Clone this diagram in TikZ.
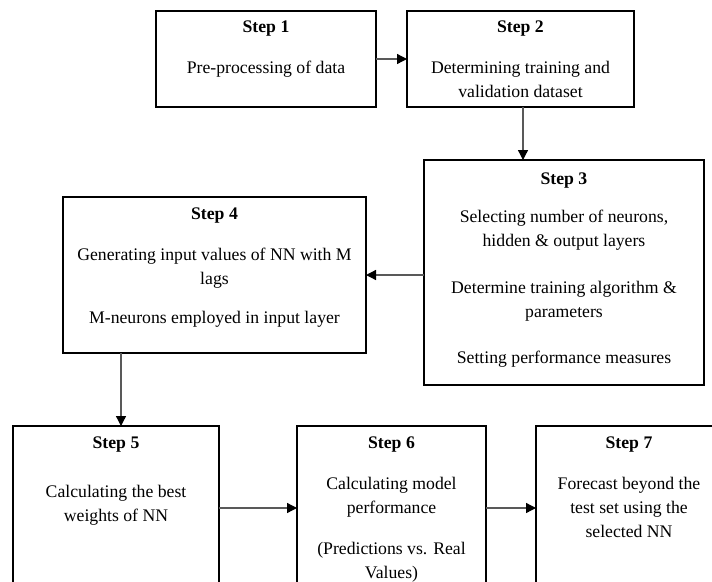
\documentclass[tikz,border=0pt]{standalone}
\usepackage{fontspec}
\setmainfont{Liberation Serif}
\usetikzlibrary{arrows.meta}
\begin{document}
\begin{tikzpicture}[x=1pt,y=-1pt,
  stepbox/.style={draw=black, line width=1.1pt, rectangle, inner sep=0pt, outer sep=0pt},
  txt/.style={anchor=north, align=center, inner sep=0pt, font=\fontsize{17.7}{24}\selectfont},
  conn/.style={line width=1.3pt, draw=black!65, -{Triangle[length=10pt,width=10pt,color=black]}}]
\useasboundingbox (0,0) rectangle (712,581);
\begin{scope}
\clip (0,0) rectangle (712,581);
\node[stepbox, minimum width=220pt, minimum height=96pt] (s1) at (266,59) {};
\node[stepbox, minimum width=227pt, minimum height=96pt] (s2) at (520.5,59) {};
\node[stepbox, minimum width=280pt, minimum height=225pt] (s3) at (564,272.5) {};
\node[stepbox, minimum width=303pt, minimum height=156pt] (s4) at (214.5,275) {};
\node[stepbox, minimum width=206pt, minimum height=164pt] (s5) at (116,508) {};
\node[stepbox, minimum width=189pt, minimum height=164pt] (s6) at (391.5,508) {};
\node[stepbox, minimum width=186pt, minimum height=164pt] (s7) at (629,508) {};

\node[txt] (t1) at ([yshift=-10pt]s1.north) {\textbf{Step 1}\\[16.5pt]Pre-processing of data};
\node[txt] (t2) at ([yshift=-10pt]s2.north) {\textbf{Step 2}\\[16.5pt]Determining training and\\validation dataset};
\node[txt] (t3) at ([yshift=-13pt]s3.north) {\textbf{Step 3}\\[14pt]Selecting number of neurons,\\hidden \& output layers\\[23pt]Determine training algorithm \&\\parameters\\[22pt]Setting performance measures};
\node[txt] (t4) at ([yshift=-11pt]s4.north) {\textbf{Step 4}\\[16.5pt]Generating input values of NN with M\\lags\\[15pt]M-neurons employed in input layer};
\node[txt] (t5) at ([yshift=-11pt]s5.north) {\textbf{Step 5}\\[24.5pt]Calculating the best\\weights of NN};
\node[txt] (t6) at ([yshift=-11pt]s6.north) {\textbf{Step 6}\\[16.5pt]Calculating model\\performance\\[17pt](Predictions vs. Real\\Values)};
\node[txt] (t7) at ([yshift=-11pt]s7.north) {\textbf{Step 7}\\[16.5pt]Forecast beyond the\\test set using the\\selected NN};
\end{scope}

\draw[conn] (s1.east) -- (s2.west);
\draw[conn] ([xshift=2.5pt]s2.south) -- ([xshift=2.5pt]s2.south |- s3.north);
\draw[conn] (s3.west |- s4.east) -- (s4.east);
\draw[conn] ([xshift=5pt]s5.north |- s4.south) -- ([xshift=5pt]s5.north);
\draw[conn] (s5.east) -- (s6.west);
\draw[conn] (s6.east) -- (s7.west);
\end{tikzpicture}
\end{document}
